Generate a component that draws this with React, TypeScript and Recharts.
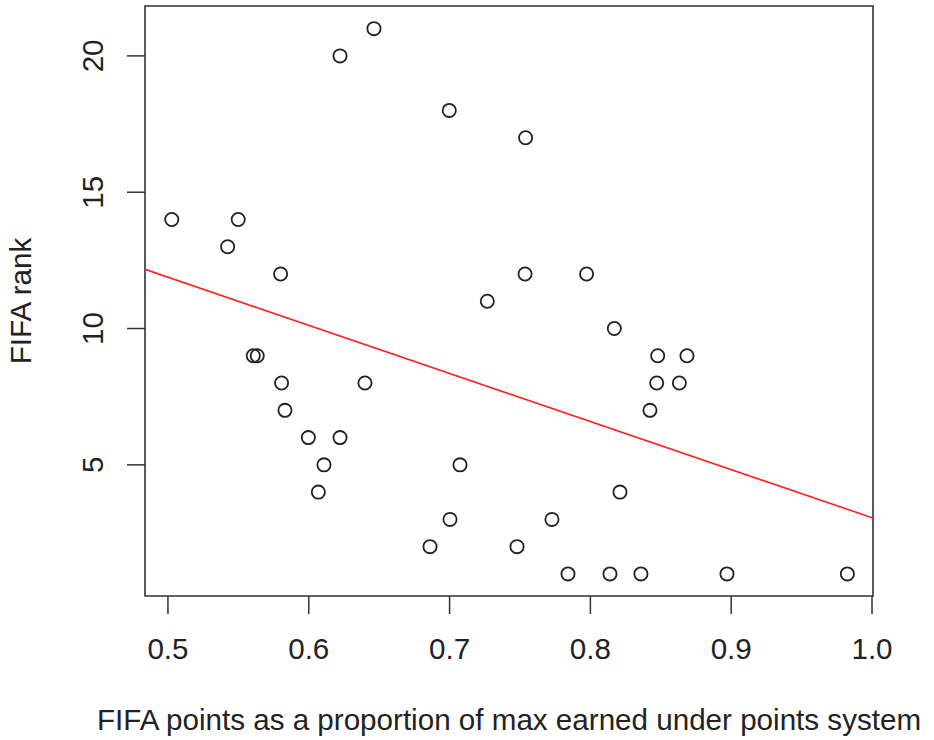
import { ScatterChart, Scatter, XAxis, YAxis, ReferenceArea } from 'recharts';

// FIFA points as share of the max earned, and FIFA rank, one entry per team
const shareOfMax = [
  0.5027, 0.5424, 0.5499, 0.58, 0.5606, 0.5634, 0.5807, 0.5831, 0.5997, 0.6108,
  0.6068, 0.6222, 0.6222, 0.6463, 0.6399, 0.6861, 0.7003, 0.6998, 0.7074, 0.7268,
  0.7479, 0.754, 0.7536, 0.7727, 0.7841, 0.7973, 0.8139, 0.817, 0.821, 0.8359,
  0.8423, 0.8471, 0.8478, 0.8632, 0.8686, 0.897, 0.9825,
];
const fifaRank = [
  14, 13, 14, 12, 9, 9, 8, 7, 6, 5,
  4, 6, 20, 21, 8, 2, 3, 18, 5, 11,
  2, 17, 12, 3, 1, 12, 1, 10, 4, 1,
  7, 8, 9, 8, 9, 1, 1,
];

// fitted line, read at the two edges of the plot
const fitX = [0.4837, 1.0007];
const fitY = [12.17, 3.05];

const xDomain = [0.4837, 1.0007];
const yDomain = [0.19, 21.83];
const xTicks = [0.5, 0.6, 0.7, 0.8, 0.9, 1.0];
const yTicks = [5, 10, 15, 20];

const points = shareOfMax.map((x, i) => ({ x, y: fifaRank[i] }));
const fitLine = fitX.map((x, i) => ({ x, y: fitY[i] }));

const FONT = '"Liberation Sans", Arial, Helvetica, sans-serif';
const FONT_SIZE = 29.6;
const INK = '#222';

const OpenCircle = (props: any) => (
  <circle cx={props.cx} cy={props.cy} r={6.6} fill="none" stroke={INK} strokeWidth={1.8} />
);

const YTick = (props: any) => {
  const { x, y, payload } = props;
  return (
    <text
      x={x}
      y={y}
      transform={`rotate(-90 ${x} ${y})`}
      textAnchor="middle"
      fontSize={FONT_SIZE}
      fontFamily={FONT}
      fill={INK}
    >
      {payload.value}
    </text>
  );
};

const YLabel = (props: any) => {
  const vb = props.viewBox;
  const x = vb.x + 31;
  const y = vb.y + vb.height / 2;
  return (
    <text
      x={x}
      y={y}
      transform={`rotate(-90 ${x} ${y})`}
      textAnchor="middle"
      fontSize={FONT_SIZE}
      fontFamily={FONT}
      fill={INK}
    >
      FIFA rank
    </text>
  );
};

export default function App() {
  return (
    <div style={{ position: 'absolute', left: 0, top: 0, background: '#fff' }}>
      <ScatterChart
        width={934}
        height={740}
        margin={{ top: 6, right: 61, bottom: 0, left: 0 }}
      >
        <XAxis
          type="number"
          dataKey="x"
          domain={xDomain}
          allowDataOverflow
          ticks={xTicks}
          tickFormatter={(v: number) => v.toFixed(1)}
          axisLine={false}
          tickLine={{ stroke: '#333', strokeWidth: 1.5 }}
          tickSize={18}
          tickMargin={24}
          height={144}
          tick={{ fontSize: FONT_SIZE, fontFamily: FONT, fill: INK }}
          label={{
            value: 'FIFA points as a proportion of max earned under points system',
            position: 'insideBottom',
            offset: 10,
            fontSize: FONT_SIZE,
            fontFamily: FONT,
            fill: INK,
          }}
        />
        <YAxis
          type="number"
          dataKey="y"
          domain={yDomain}
          allowDataOverflow
          ticks={yTicks}
          axisLine={false}
          tickLine={{ stroke: '#333', strokeWidth: 1.5 }}
          tickSize={18}
          tickMargin={24}
          width={145}
          tick={<YTick />}
          label={{ content: <YLabel /> }}
        />
        <ReferenceArea
          x1={xDomain[0]}
          x2={xDomain[1]}
          y1={yDomain[0]}
          y2={yDomain[1]}
          fill="none"
          stroke="#333"
          strokeWidth={1.6}
          ifOverflow="visible"
        />
        <Scatter
          data={fitLine}
          line={{ stroke: '#ff2020', strokeWidth: 1.6 }}
          shape={() => <g />}
          isAnimationActive={false}
        />
        <Scatter data={points} shape={<OpenCircle />} isAnimationActive={false} />
      </ScatterChart>
    </div>
  );
}
